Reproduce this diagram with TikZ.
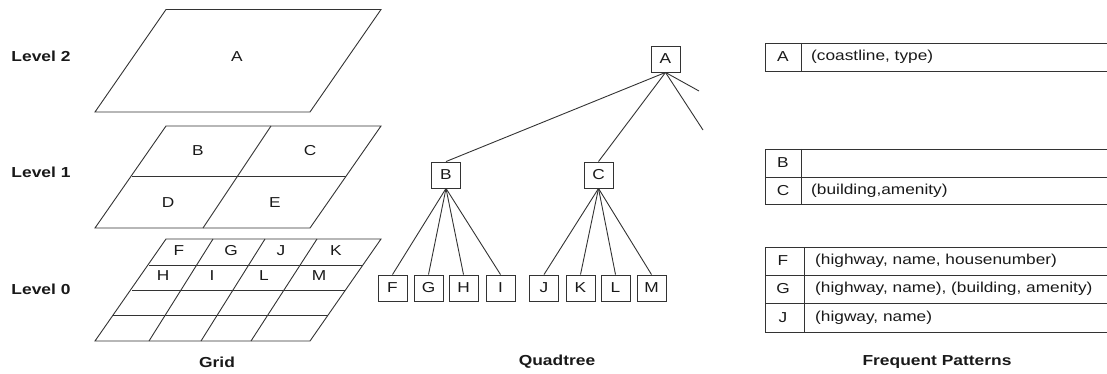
\documentclass[tikz,border=0pt]{standalone}
\usepackage{fontspec}
\setmainfont{Liberation Sans}[FakeStretch=1.2]
\begin{document}
\begin{tikzpicture}[x=1pt,y=-1pt,
  every node/.style={font=\fontsize{14.4}{16}\selectfont, text=black!90, inner sep=0pt},
  ln/.style={draw=black!80, line width=0.9pt},
  tbox/.style={ln, minimum width=29pt, minimum height=26pt, fill=white},
  caption/.style={font=\fontsize{14.5}{16}\selectfont\bfseries}]
\useasboundingbox (0,0) rectangle (1107,374);

% ---------- Grid: three levels ----------
\node[caption] (lv2) at (41,56) {Level 2};
\node[caption] (lv1) at (41,172) {Level 1};
\node[caption] (lv0) at (41,289) {Level 0};

% level 2
\draw[ln] (166,9.5) -- (381,9.5) -- (310,112) -- (95,112) -- cycle;
\node (gA) at (237,57) {A};

% level 1
\draw[ln] (166,126) -- (381,126) -- (310,228) -- (95,228) -- cycle;
\draw[ln] (132,176) -- (346,176);
\draw[ln] (271,126) -- (203,228);
\node (gB) at (198,151) {B};
\node (gC) at (310,151) {C};
\node (gD) at (168,203) {D};
\node (gE) at (275,203) {E};

% level 0
\draw[ln] (166,239) -- (381,239) -- (310,341) -- (95,341) -- cycle;
\draw[ln] (149,265) -- (363,265);
\draw[ln] (132,290) -- (345,290);
\draw[ln] (113,315) -- (328,315);
\draw[ln] (213,239) -- (149,341);
\draw[ln] (265,239) -- (201,341);
\draw[ln] (317,239) -- (251,341);
\node (gF) at (179,251) {F};
\node (gG) at (231,251) {G};
\node (gJ) at (281,251) {J};
\node (gK) at (336,251) {K};
\node (gH) at (163,276) {H};
\node (gI) at (212,276) {I};
\node (gL) at (264,276) {L};
\node (gM) at (319,276) {M};

\node[caption] (capGrid) at (217,362) {Grid};

% ---------- Quadtree ----------
\node[tbox] (A) at (665.5,59) {A};
\node[tbox] (B) at (446,175) {B};
\node[tbox] (C) at (598.5,175) {C};
\node[tbox] (F) at (392.5,288) {F};
\node[tbox] (G) at (428.5,288) {G};
\node[tbox] (H) at (463.5,288) {H};
\node[tbox] (I) at (500.5,288) {I};
\node[tbox] (J) at (544,288) {J};
\node[tbox] (K) at (580.5,288) {K};
\node[tbox] (L) at (615.5,288) {L};
\node[tbox] (M) at (651.5,288) {M};
\coordinate (d1) at (699,91);
\coordinate (d2) at (703,130);

\draw[ln] (A.south) -- (B.north);
\draw[ln] (A.south) -- (C.north);
\draw[ln] (A.south) -- (d1);
\draw[ln] (A.south) -- (d2);
\foreach \c in {F,G,H,I} \draw[ln] (B.south) -- (\c.north);
\foreach \c in {J,K,L,M} \draw[ln] (C.south) -- (\c.north);

\node[caption] (capTree) at (557,362) {Quadtree};

% ---------- Frequent pattern tables ----------
\draw[ln] (1107,43) -- (765,43) -- (765,71) -- (1107,71);
\draw[ln] (801,43) -- (801,71);
\node (tA) at (783,57) {A};
\node[anchor=west] (pA) at (811,57) {(coastline, type)};

\draw[ln] (1107,149) -- (765,149) -- (765,204) -- (1107,204);
\draw[ln] (765,177) -- (1107,177);
\draw[ln] (801,149) -- (801,204);
\node (tB) at (783,163) {B};
\node (tC) at (783,190.5) {C};
\node[anchor=west] (pC) at (811,190.5) {(building,amenity)};

\draw[ln] (1107,247) -- (765,247) -- (765,332) -- (1107,332);
\draw[ln] (765,275) -- (1107,275);
\draw[ln] (765,303) -- (1107,303);
\draw[ln] (804,247) -- (804,332);
\node (tF) at (783,261) {F};
\node (tG) at (783,289) {G};
\node (tJ) at (783,317.5) {J};
\node[anchor=west] (pF) at (815,261) {(highway, name, housenumber)};
\node[anchor=west] (pG) at (815,289) {(highway, name), (building, amenity)};
\node[anchor=west] (pJ) at (815,317.5) {(higway, name)};

\node[caption] (capFP) at (937,362) {Frequent Patterns};
\end{tikzpicture}
\end{document}
